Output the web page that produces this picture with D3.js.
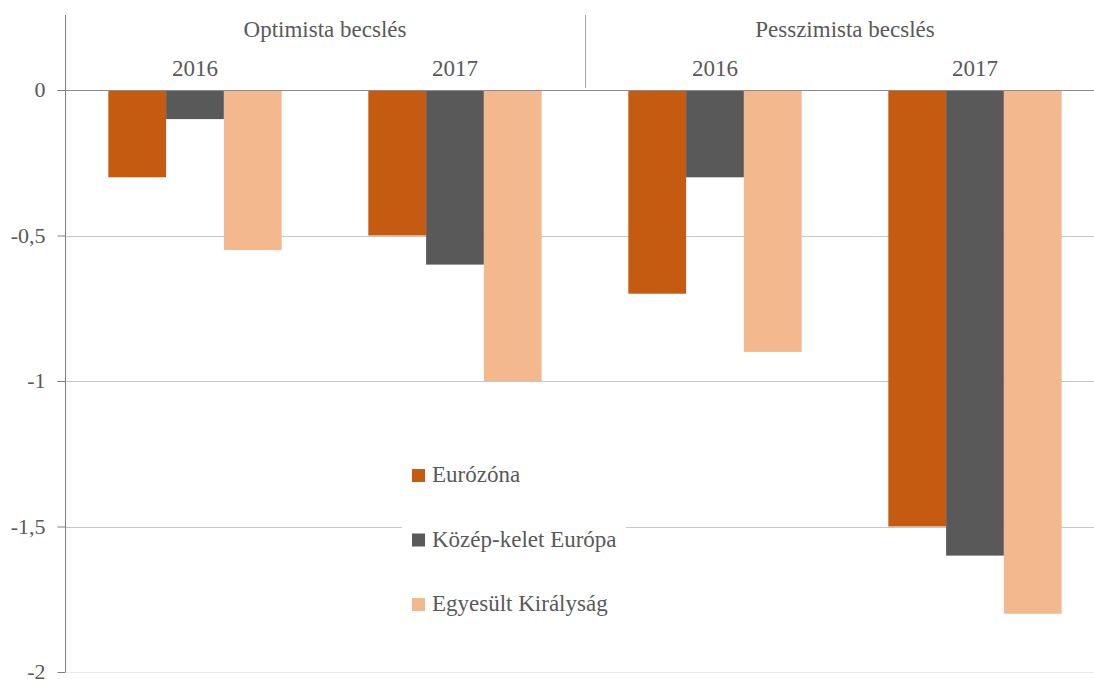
<!DOCTYPE html>
<html lang="hu">
<head>
<meta charset="utf-8">
<script src="https://d3js.org/d3.v7.min.js"></script>
<style>
  body { margin: 0; background: #fff; }
  svg text { font-family: "Liberation Serif", serif; fill: #595959; }
</style>
</head>
<body>
<div id="chart"></div>
<script>
// data
const scenarios = ["Optimista becslés", "Pesszimista becslés"];
const years = ["2016", "2017"];
const seriesNames = ["Eurózóna", "Közép-kelet Európa", "Egyesült Királyság"];
const eurozona = [-0.3, -0.5, -0.7, -1.5];
const kozepKelet = [-0.1, -0.6, -0.3, -1.6];
const egyesult = [-0.55, -1.0, -0.9, -1.8];
const yTicks = [0, -0.5, -1, -1.5, -2];
const colors = ["#c55a11", "#595959", "#f4b88f"];

const series = [eurozona, kozepKelet, egyesult];
const groups = [];
scenarios.forEach(s => years.forEach(y => groups.push(s + "|" + y)));

const W = 1094, H = 679;
const margin = {top: 90, left: 65};
const plotW = 1040, plotH = 582;

const svg = d3.select("#chart").append("svg")
  .attr("width", W).attr("height", H);

const x = d3.scaleBand().domain(groups).range([margin.left, margin.left + plotW]).paddingInner(0).paddingOuter(0);
const xi = d3.scaleBand().domain(d3.range(3)).range([0, x.bandwidth()]).paddingOuter(0.75).paddingInner(0);
const y = d3.scaleLinear().domain([0, -2]).range([margin.top, margin.top + plotH]);

// gridlines
svg.append("g").selectAll("line").data(yTicks.slice(1)).join("line")
  .attr("x1", margin.left).attr("x2", margin.left + plotW)
  .attr("y1", d => Math.round(y(d)) + 0.5).attr("y2", d => Math.round(y(d)) + 0.5)
  .attr("stroke", d => d === -2 ? "#ececec" : "#c6c6c6").attr("stroke-width", 1);

// bars
series.forEach((vals, si) => {
  svg.append("g").selectAll("rect").data(vals).join("rect")
    .attr("x", (d, i) => x(groups[i]) + xi(si))
    .attr("y", y(0))
    .attr("width", xi.bandwidth())
    .attr("height", d => y(d) - y(0))
    .attr("fill", colors[si]);
});

// zero line
svg.append("line")
  .attr("x1", margin.left).attr("x2", margin.left + plotW)
  .attr("y1", Math.round(y(0)) + 0.5).attr("y2", Math.round(y(0)) + 0.5)
  .attr("stroke", "#8c8c8c");

// y axis
const yAxis = d3.axisLeft(y).tickValues(yTicks).tickSize(8)
  .tickFormat(d => d3.format("")(d).replace(".", ",").replace("−", "-"));
const ya = svg.append("g").attr("transform", `translate(${margin.left + 0.5},0)`).call(yAxis);
ya.select(".domain").attr("stroke", "#7f7f7f").attr("d", `M0,${margin.top - 75}V${margin.top + plotH}`);
ya.selectAll(".tick line").attr("stroke", "#7f7f7f");
ya.selectAll(".tick text").attr("x", -20).attr("dy", "0.3em")
  .style("font-size", "22px").style("font-family", "Liberation Serif, serif").attr("fill", "#595959");

// header separator
svg.append("line")
  .attr("x1", x(groups[2]) + 0.5).attr("x2", x(groups[2]) + 0.5)
  .attr("y1", 15).attr("y2", margin.top - 2)
  .attr("stroke", "#a6a6a6");

// header labels
svg.append("g").selectAll("text").data(scenarios).join("text")
  .attr("x", (d, i) => x(groups[i * 2]) + x.bandwidth())
  .attr("y", 37)
  .attr("text-anchor", "middle")
  .style("font-size", "23px")
  .text(d => d);

svg.append("g").selectAll("text").data(groups).join("text")
  .attr("x", d => x(d) + x.bandwidth() / 2)
  .attr("y", 76)
  .attr("text-anchor", "middle")
  .style("font-size", "23px")
  .text(d => d.split("|")[1]);

// legend
const legend = svg.append("g");
legend.append("rect").attr("x", 402).attr("y", 450).attr("width", 224).attr("height", 170).attr("fill", "#fff");
const li = legend.selectAll("g").data(seriesNames).join("g")
  .attr("transform", (d, i) => `translate(412,${475 + i * 64.5})`);
li.append("rect").attr("x", 0).attr("y", -6).attr("width", 13).attr("height", 13)
  .attr("fill", (d, i) => colors[i]);
li.append("text").attr("x", 20).attr("y", 7).style("font-size", "23px").text(d => d);
</script>
</body>
</html>
